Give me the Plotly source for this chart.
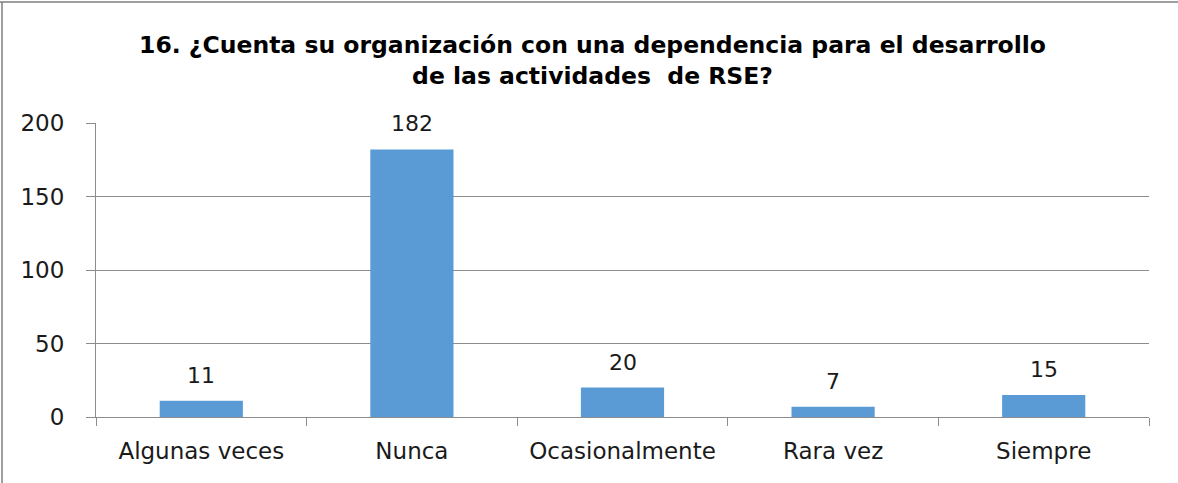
import plotly.graph_objects as go

categories = ["Algunas veces", "Nunca", "Ocasionalmente", "Rara vez", "Siempre"]
values = [11, 182, 20, 7, 15]
y_ticks = [0, 50, 100, 150, 200]
title_text = "16. ¿Cuenta su organización con una dependencia para el desarrollo<br>de las actividades  de RSE?"

FONT = "DejaVu Sans, sans-serif"
TEXT = "#1a1a1a"
GRID = "#8c8c8c"

fig = go.Figure(go.Bar(
    x=categories, y=values,
    marker=dict(color="#5B9BD5", line=dict(width=0)),
    width=0.395,
    cliponaxis=False,
))

for c, v in zip(categories, values):
    fig.add_annotation(x=c, y=v, text=str(v), showarrow=False,
                       yanchor="bottom", yshift=11,
                       font=dict(family=FONT, size=22, color=TEXT))

fig.update_layout(
    width=1178, height=483,
    margin=dict(l=96, r=29, t=123, b=66),
    paper_bgcolor="white", plot_bgcolor="white",
    showlegend=False,
    title=dict(text="<b>" + title_text + "</b>", x=0.503, xanchor="center",
               y=1 - 53 / 483, yanchor="middle",
               font=dict(family=FONT, size=23.5, color="#000000")),
    font=dict(family=FONT, size=22, color=TEXT),
    xaxis=dict(showline=True, linecolor=GRID, linewidth=1,
               ticks="outside", tickson="boundaries", ticklen=8, tickcolor=GRID,
               ticklabelstandoff=13,
               tickfont=dict(family=FONT, size=23, color=TEXT), showgrid=False),
    yaxis=dict(range=[0, 200], tickvals=y_ticks, showline=True, linecolor=GRID,
               linewidth=1, ticks="outside", ticklen=9, tickcolor=GRID,
               ticklabelstandoff=17,
               showgrid=True, gridcolor=GRID, gridwidth=1, zeroline=False,
               tickfont=dict(family=FONT, size=23, color=TEXT)),
    shapes=[
        dict(type="line", xref="paper", yref="paper", x0=-96/1053, x1=1.0 + 29/1053,
             y0=1 + 121/294, y1=1 + 121/294, line=dict(color="#7f7f7f", width=1.5)),
        dict(type="line", xref="paper", yref="paper", x0=-94/1053, x1=-94/1053,
             y0=-66/294, y1=1 + 121/294, line=dict(color="#7f7f7f", width=1.5)),
    ],
)

fig.write_html("out.html", config={"displayModeBar": False},
               post_script="document.body.style.margin='0';document.body.style.padding='0';")
